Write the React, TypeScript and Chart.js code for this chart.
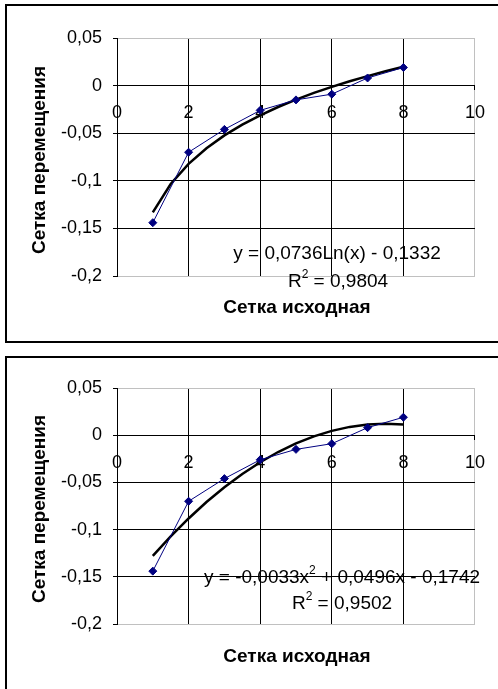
import React, { useEffect, useRef } from 'react';
import { Chart, registerables } from 'chart.js';

Chart.register(...registerables);

// ---- data ----
const gridX = [1, 2, 3, 4, 5, 6, 7, 8];
const displacement = [-0.144, -0.07, -0.046, -0.026, -0.015, -0.009, 0.008, 0.019];

const trendX = [1, 1.5, 2, 2.5, 3, 3.5, 4, 4.5, 5, 5.5, 6, 6.5, 7, 7.5, 8];
const logTrend = [-0.1332, -0.1034, -0.0822, -0.0658, -0.0523, -0.041, -0.0312, -0.0225, -0.0148, -0.0077, -0.0013, 0.0046, 0.01, 0.0151, 0.0198];
const polyTrend = [-0.1279, -0.1072, -0.0882, -0.0708, -0.0551, -0.041, -0.0286, -0.0178, -0.0087, -0.0012, 0.0046, 0.0088, 0.0113, 0.0122, 0.0114];

const xTicks = [0, 2, 4, 6, 8, 10];
const yTicks = [-0.2, -0.15, -0.1, -0.05, 0, 0.05];

const xTitle = 'Сетка исходная';
const yTitle = 'Сетка перемещения';

type Seg = { t: string; sup?: boolean };
const logEquation: Seg[] = [{ t: 'y = 0,0736Ln(x) - 0,1332' }];
const logR2: Seg[] = [{ t: 'R' }, { t: '2', sup: true }, { t: ' = 0,9804' }];
const polyEquation: Seg[] = [{ t: 'y = -0,0033x' }, { t: '2', sup: true }, { t: ' + 0,0496x - 0,1742' }];
const polyR2: Seg[] = [{ t: 'R' }, { t: '2', sup: true }, { t: ' = 0,9502' }];

const FONT = '"Liberation Sans", Arial, sans-serif';
const GRAY = '#c0c0c0';

type TextCfg = {
  xTitlePos: [number, number];
  yTitlePos: [number, number];
  lines: { segs: Seg[]; pos: [number, number] }[];
};

function drawRich(ctx: CanvasRenderingContext2D, segs: Seg[], cx: number, cy: number, size: number) {
  const supSize = Math.round(size * 0.65);
  let total = 0;
  const widths = segs.map((s) => {
    ctx.font = `${s.sup ? supSize : size}px ${FONT}`;
    const w = ctx.measureText(s.t).width;
    total += w;
    return w;
  });
  let x = cx - total / 2;
  ctx.textAlign = 'left';
  segs.forEach((s, i) => {
    ctx.font = `${s.sup ? supSize : size}px ${FONT}`;
    ctx.fillText(s.t, x, s.sup ? cy - size * 0.38 : cy);
    x += widths[i];
  });
}

function makeTextPlugin(cfg: TextCfg) {
  return {
    id: 'excelTexts',
    afterDraw(chart: any) {
      const ctx: CanvasRenderingContext2D = chart.ctx;
      ctx.save();
      ctx.fillStyle = '#000';
      ctx.textBaseline = 'middle';
      ctx.textAlign = 'center';
      ctx.font = `bold 19px ${FONT}`;
      ctx.fillText(xTitle, cfg.xTitlePos[0], cfg.xTitlePos[1]);
      ctx.save();
      ctx.translate(cfg.yTitlePos[0], cfg.yTitlePos[1]);
      ctx.rotate(-Math.PI / 2);
      ctx.fillText(yTitle, 0, 0);
      ctx.restore();
      cfg.lines.forEach((l) => drawRich(ctx, l.segs, l.pos[0], l.pos[1], 19));
      ctx.restore();
    },
  };
}

const fmt = (v: number) => (Math.round(v * 100) / 100).toString().replace('.', ',');

function ExcelChart(props: { trend: number[]; width: number; height: number; padTop: number; padBottom: number; text: TextCfg }) {
  const ref = useRef<HTMLCanvasElement | null>(null);
  useEffect(() => {
    if (!ref.current) return;
    const chart = new Chart(ref.current, {
      type: 'scatter',
      data: {
        datasets: [
          {
            data: gridX.map((x, i) => ({ x, y: displacement[i] })),
            showLine: true,
            borderColor: '#000080',
            backgroundColor: '#000080',
            borderWidth: 1,
            pointStyle: 'rectRot',
            pointRadius: 4,
            pointBorderWidth: 1,
            pointBorderColor: '#000080',
            pointBackgroundColor: '#000080',
          },
          {
            data: trendX.map((x, i) => ({ x, y: props.trend[i] })),
            showLine: true,
            borderColor: '#000',
            borderWidth: 2.5,
            pointRadius: 0,
          },
        ],
      },
      options: {
        animation: false,
        responsive: false,
        devicePixelRatio: 1,
        events: [],
        layout: { padding: { left: 0, top: props.padTop, right: 21, bottom: props.padBottom } },
        plugins: { legend: { display: false }, tooltip: { enabled: false } },
        scales: {
          x: {
            type: 'linear',
            position: { y: 0 } as any,
            min: 0,
            max: 10,
            afterBuildTicks: (s: any) => {
              s.ticks = xTicks.map((v) => ({ value: v }));
            },
            grid: {
              color: (c: any) => (c.tick && c.tick.value === 10 ? GRAY : '#000'),
              tickColor: '#000',
              tickLength: 4,
              lineWidth: 1,
            },
            border: { color: '#000', width: 1 },
            ticks: {
              padding: 13,
              color: '#000',
              maxRotation: 0,
              autoSkip: false,
              font: { family: FONT, size: 18 },
              callback: (v: any) => String(v),
            },
          },
          y: {
            type: 'linear',
            min: -0.2,
            max: 0.05,
            afterFit: (s: any) => {
              s.width = 110;
            },
            afterBuildTicks: (s: any) => {
              s.ticks = yTicks.map((v) => ({ value: v }));
            },
            grid: {
              color: (c: any) =>
                c.tick && (Math.abs(c.tick.value - 0.05) < 1e-9 || Math.abs(c.tick.value + 0.2) < 1e-9) ? GRAY : '#000',
              tickColor: '#000',
              tickLength: 4,
              lineWidth: 1,
            },
            border: { color: '#000', width: 1 },
            ticks: {
              padding: 11,
              color: '#000',
              autoSkip: false,
              font: { family: FONT, size: 18 },
              callback: (v: any) => fmt(Number(v)),
            },
          },
        },
      } as any,
      plugins: [makeTextPlugin(props.text)],
    });
    return () => chart.destroy();
  }, []);
  return <canvas ref={ref} width={props.width} height={props.height} style={{ display: 'block', width: props.width, height: props.height }} />;
}

export default function App() {
  return (
    <div style={{ position: 'absolute', left: 0, top: 0, width: 498, height: 689, overflow: 'hidden', background: '#fff' }}>
      <div
        style={{
          position: 'absolute',
          left: 5,
          top: 4,
          width: 493,
          height: 339,
          boxSizing: 'border-box',
          borderTop: '2px solid #000',
          borderLeft: '2px solid #000',
          borderBottom: '2px solid #000',
        }}
      >
        <ExcelChart
          trend={logTrend}
          width={491}
          height={335}
          padTop={32}
          padBottom={65}
          text={{
            xTitlePos: [290, 302],
            yTitlePos: [33, 154],
            lines: [
              { segs: logEquation, pos: [330, 248] },
              { segs: logR2, pos: [331, 276] },
            ],
          }}
        />
      </div>
      <div
        style={{
          position: 'absolute',
          left: 5,
          top: 356,
          width: 493,
          height: 333,
          boxSizing: 'border-box',
          borderTop: '2px solid #000',
          borderLeft: '2px solid #000',
        }}
      >
        <ExcelChart
          trend={polyTrend}
          width={491}
          height={331}
          padTop={30}
          padBottom={65}
          text={{
            xTitlePos: [290, 299],
            yTitlePos: [33, 151],
            lines: [
              { segs: polyEquation, pos: [335, 220] },
              { segs: polyR2, pos: [335, 246] },
            ],
          }}
        />
      </div>
    </div>
  );
}
